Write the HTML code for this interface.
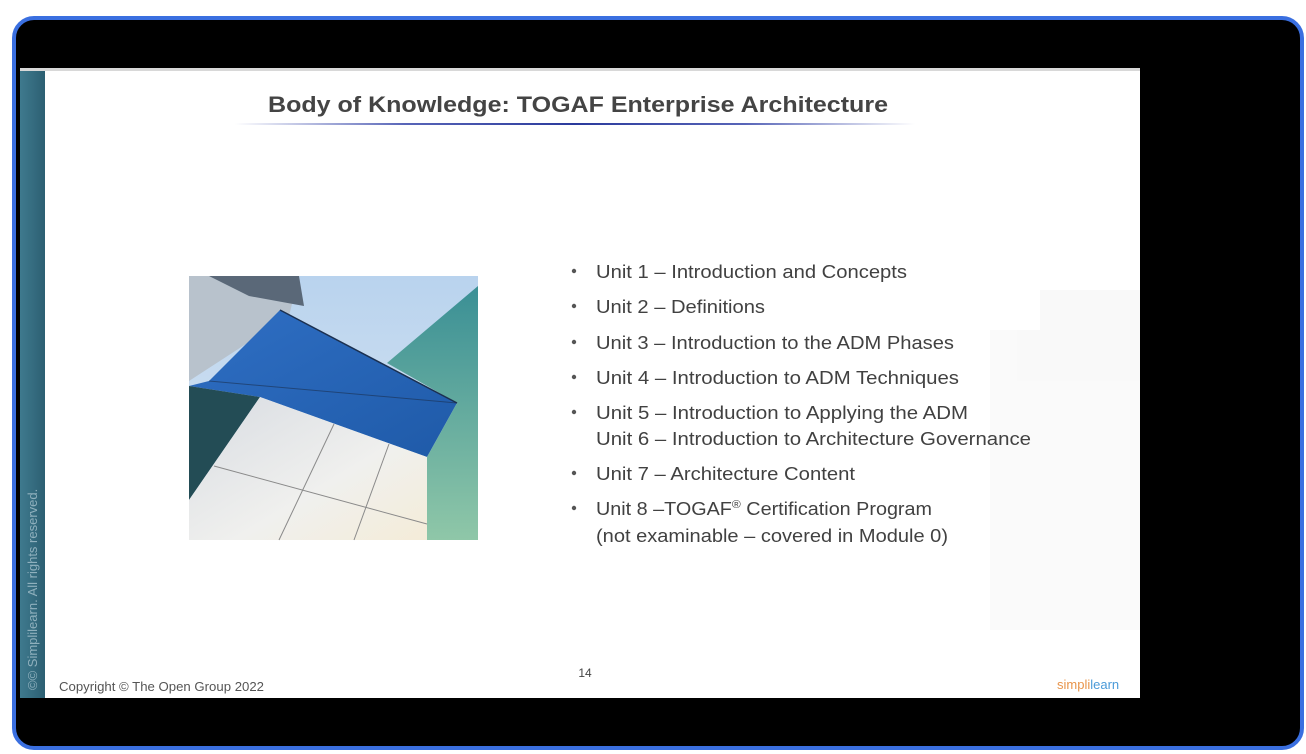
<!DOCTYPE html>
<html><head><meta charset="utf-8"><style>
html,body{margin:0;padding:0;background:#fff;width:1306px;height:754px;overflow:hidden}
</style></head><body>
<svg width="1306" height="754" viewBox="0 0 1306 754" xmlns="http://www.w3.org/2000/svg" font-family="Liberation Sans, sans-serif">
<defs>
<linearGradient id="ul" x1="0" x2="1" y1="0" y2="0">
<stop offset="0" stop-color="#fff"/><stop offset="0.25" stop-color="#5865b8"/><stop offset="0.5" stop-color="#2a3a9c"/><stop offset="0.75" stop-color="#5865b8"/><stop offset="1" stop-color="#fff"/>
</linearGradient>
<linearGradient id="sky" x1="0" y1="0" x2="0" y2="1"><stop offset="0" stop-color="#b9d3ee"/><stop offset="1" stop-color="#dbe7f2"/></linearGradient>
<linearGradient id="glass" x1="0" y1="0" x2="1" y2="1"><stop offset="0" stop-color="#2f6fc4"/><stop offset="1" stop-color="#1f5aa8"/></linearGradient>
<linearGradient id="panel" x1="0" y1="0" x2="1" y2="1"><stop offset="0" stop-color="#d8dce2"/><stop offset="0.6" stop-color="#f0f0ee"/><stop offset="1" stop-color="#f4ecd8"/></linearGradient>
<linearGradient id="green" x1="0" y1="0" x2="0" y2="1"><stop offset="0" stop-color="#3a8f95"/><stop offset="1" stop-color="#8fc7a8"/></linearGradient>
<linearGradient id="side" x1="0" x2="1"><stop offset="0" stop-color="#3f7a8e"/><stop offset="1" stop-color="#2c5f72"/></linearGradient>
</defs>
<rect width="1306" height="754" fill="#fff"/>
<rect x="14" y="18" width="1288" height="730" rx="20" fill="#000" stroke="#3a6fe0" stroke-width="4"/>
<rect x="20" y="69" width="1120" height="629" fill="#fff"/>
<rect x="20" y="68" width="1120" height="3" fill="#d8d8d8"/>
<rect x="20" y="71" width="25" height="627" fill="url(#side)"/>
<text transform="translate(37,690) rotate(-90)" font-size="13" fill="#8fb0bd">©© Simplilearn. All rights reserved.</text>
<g opacity="0.025" fill="#333">
<rect x="990" y="330" width="150" height="300"/>
<rect x="1040" y="290" width="100" height="40"/>
</g>
<text x="578" y="112" text-anchor="middle" font-size="22" font-weight="bold" fill="#444" textLength="620" lengthAdjust="spacingAndGlyphs">Body of Knowledge: TOGAF Enterprise Architecture</text>
<rect x="235" y="123" width="680" height="2" fill="url(#ul)"/>
<g transform="translate(189,276)">
<rect width="289" height="264" fill="url(#sky)"/>
<polygon points="0,0 110,0 100,40 0,105" fill="#b8c2cc"/>
<polygon points="20,0 110,0 115,30 60,20" fill="#5a6878"/>
<polygon points="20,105 91,34 268,127 238,181 71,121 0,110" fill="url(#glass)"/>
<polygon points="0,110 71,121 0,224" fill="#234c55"/>
<polygon points="198,87 289,10 289,264 238,264 238,181 268,127" fill="url(#green)"/>
<polygon points="71,121 238,181 238,264 0,264 0,224" fill="url(#panel)"/>
<g stroke="#8a8a8a" stroke-width="1">
<line x1="145" y1="148" x2="90" y2="264"/>
<line x1="200" y1="168" x2="165" y2="264"/>
<line x1="25" y1="190" x2="238" y2="248"/>
</g>
<line x1="91" y1="34" x2="268" y2="127" stroke="#1b3050" stroke-width="1.5"/>
<line x1="20" y1="105" x2="268" y2="127" stroke="#1b3050" stroke-width="1" opacity="0.6"/>
</g>
<g font-size="18" fill="#414141">
<g fill="#555">
<circle cx="574" cy="271" r="2.2"/><circle cx="574" cy="306" r="2.2"/><circle cx="574" cy="342" r="2.2"/><circle cx="574" cy="377" r="2.2"/><circle cx="574" cy="412" r="2.2"/><circle cx="574" cy="473" r="2.2"/><circle cx="574" cy="508" r="2.2"/>
</g>
<text x="596" y="278" textLength="311" lengthAdjust="spacingAndGlyphs">Unit 1 – Introduction and Concepts</text>
<text x="596" y="313" textLength="169" lengthAdjust="spacingAndGlyphs">Unit 2 – Definitions</text>
<text x="596" y="349" textLength="358" lengthAdjust="spacingAndGlyphs">Unit 3 – Introduction to the ADM Phases</text>
<text x="596" y="384" textLength="363" lengthAdjust="spacingAndGlyphs">Unit 4 – Introduction to ADM Techniques</text>
<text x="596" y="419" textLength="372" lengthAdjust="spacingAndGlyphs">Unit 5 – Introduction to Applying the ADM</text>
<text x="596" y="445" textLength="435" lengthAdjust="spacingAndGlyphs">Unit 6 – Introduction to Architecture Governance</text>
<text x="596" y="480" textLength="259" lengthAdjust="spacingAndGlyphs">Unit 7 – Architecture Content</text>
<text x="596" y="515" textLength="336" lengthAdjust="spacingAndGlyphs">Unit 8 –TOGAF<tspan font-size="11" dy="-7">®</tspan><tspan dy="7"> Certification Program</tspan></text>
<text x="596" y="542" textLength="352" lengthAdjust="spacingAndGlyphs">(not examinable – covered in Module 0)</text>
</g>
<text x="585" y="677" text-anchor="middle" font-size="12" fill="#444">14</text>
<text x="59" y="691" font-size="12.5" fill="#555" textLength="205" lengthAdjust="spacingAndGlyphs">Copyright © The Open Group 2022</text>
<text x="1057" y="689" font-size="13"><tspan fill="#e8944a">simpl</tspan><tspan fill="#e8944a">i</tspan><tspan fill="#4a9ad8">learn</tspan></text>
</svg>
</body></html>
